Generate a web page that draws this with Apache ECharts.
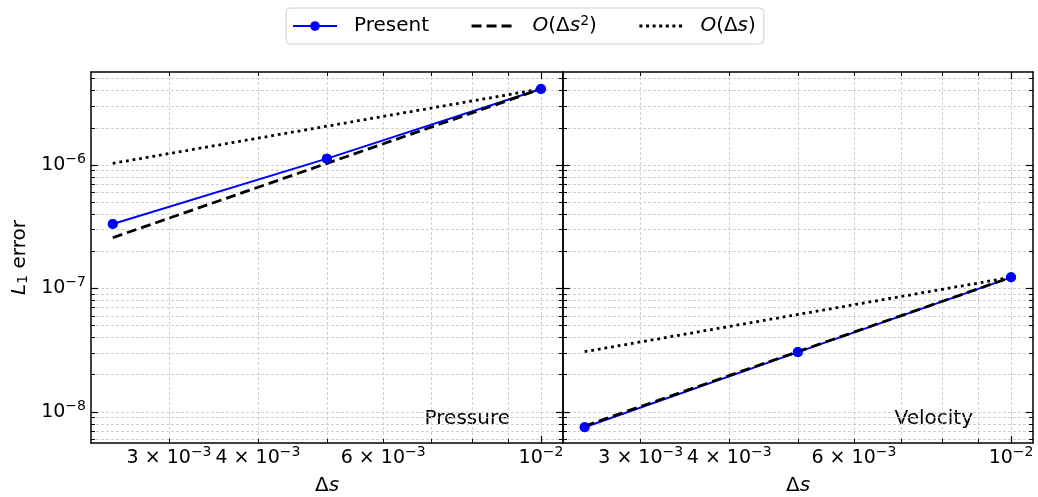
<!DOCTYPE html>
<html>
<head>
<meta charset="utf-8">
<title>L1 error convergence</title>
<script src="https://cdn.jsdelivr.net/npm/echarts@6/dist/echarts.min.js"></script>
</head>
<body style="margin:0;background:#fff">
<div id="main" style="width:1038px;height:497px"></div>
<script>
// grid spacing and errors
var ds = [0.0025, 0.005, 0.01];
var pressurePresent = [3.33e-7, 1.125e-6, 4.12e-6];
var pressureOrder2 = [2.575e-7, 1.03e-6, 4.12e-6];
var pressureOrder1 = [1.03e-6, 2.06e-6, 4.12e-6];
var velocityPresent = [7.52e-9, 3.05e-8, 1.23e-7];
var velocityOrder2 = [7.69e-9, 3.075e-8, 1.23e-7];
var velocityOrder1 = [3.075e-8, 6.15e-8, 1.23e-7];

// ticks
var xLabelTicks = [0.003, 0.004, 0.006, 0.01];
var xLabelText = ['3 × 10{sup|−3}', '4 × 10{sup|−3}', '6 × 10{sup|−3}', '10{sup|−2}'];
var xMinorTicks = [0.003, 0.004, 0.005, 0.006, 0.007, 0.008, 0.009];
var xMajorTicks = [0.01];
var yMajorTicks = [1e-8, 1e-7, 1e-6];
var yLabelText = ['10{sup|−8}', '10{sup|−7}', '10{sup|−6}'];
var yMinorTicks = [6e-9, 7e-9, 8e-9, 9e-9,
    2e-8, 3e-8, 4e-8, 5e-8, 6e-8, 7e-8, 8e-8, 9e-8,
    2e-7, 3e-7, 4e-7, 5e-7, 6e-7, 7e-7, 8e-7, 9e-7,
    2e-6, 3e-6, 4e-6, 5e-6];

var xMin = 0.00233, xMax = 0.01074;
var yMin = 5.6e-9, yMax = 5.66e-6;
var FONT = 'DejaVu Sans';

var supRich = {
    base: {fontSize: 19, fontFamily: FONT, color: '#000', lineHeight: 26},
    sup: {fontSize: 14, fontFamily: FONT, color: '#000', lineHeight: 14, verticalAlign: 'top'}
};
var gridLine = {show: true, lineStyle: {color: '#c4c4c4', width: 0.8, type: [3, 2]}};
var black = {color: '#000', width: 1.5};

function fmt(ticks, texts) {
    return function (v) {
        for (var i = 0; i < ticks.length; i++) {
            if (Math.abs(v - ticks[i]) / ticks[i] < 1e-6) {
                return texts[i].replace(/^([^{]*)/, '{base|$1}');
            }
        }
        return '';
    };
}

function makeX(gi, showName) {
    var common = {type: 'log', logBase: 10, gridIndex: gi, min: xMin, max: xMax};
    return [
        Object.assign({}, common, {
            position: 'bottom',
            name: showName ? '{n|Δ}{i|s}' : '',
            nameLocation: 'middle', nameGap: 33,
            nameTextStyle: {rich: {
                n: {fontSize: 20, fontFamily: FONT, color: '#000'},
                i: {fontSize: 20, fontFamily: FONT, color: '#000', fontStyle: 'italic'}
            }},
            axisLine: {show: true, onZero: false, lineStyle: black},
            axisTick: {inside: true, length: 4, customValues: xMinorTicks.concat(xMajorTicks), lineStyle: {color: '#000', width: 1}},
            axisLabel: {customValues: xLabelTicks, formatter: fmt(xLabelTicks, xLabelText), margin: 2, rich: supRich},
            splitLine: gridLine
        }),
        Object.assign({}, common, {
            position: 'bottom',
            axisLine: {show: false},
            axisTick: {inside: true, length: 7, customValues: xMajorTicks, lineStyle: {color: '#000', width: 1.2}},
            axisLabel: {show: false}, splitLine: {show: false}
        }),
        Object.assign({}, common, {
            position: 'top',
            axisLine: {show: true, onZero: false, lineStyle: black},
            axisTick: {inside: true, length: 4, customValues: xMinorTicks, lineStyle: {color: '#000', width: 1}},
            axisLabel: {show: false}, splitLine: {show: false}
        }),
        Object.assign({}, common, {
            position: 'top',
            axisLine: {show: false},
            axisTick: {inside: true, length: 7, customValues: xMajorTicks, lineStyle: {color: '#000', width: 1.2}},
            axisLabel: {show: false}, splitLine: {show: false}
        })
    ];
}

function makeY(gi, showLabels) {
    var common = {type: 'log', logBase: 10, gridIndex: gi, min: yMin, max: yMax};
    return [
        Object.assign({}, common, {
            position: 'left',
            name: showLabels ? '{i|L}{sub|1} error' : '',
            nameLocation: 'middle', nameGap: 61, nameRotate: 90,
            nameTextStyle: {fontSize: 20, fontFamily: FONT, color: '#000', rich: {
                i: {fontSize: 20, fontFamily: FONT, color: '#000', fontStyle: 'italic'},
                sub: {fontSize: 14, fontFamily: FONT, color: '#000', verticalAlign: 'bottom', lineHeight: 14}
            }},
            axisLine: {show: true, onZero: false, lineStyle: black},
            axisTick: {inside: true, length: 4, customValues: yMinorTicks.concat(yMajorTicks), lineStyle: {color: '#000', width: 1}},
            axisLabel: {show: showLabels, customValues: yMajorTicks, formatter: fmt(yMajorTicks, yLabelText), margin: 5, rich: supRich},
            splitLine: gridLine
        }),
        Object.assign({}, common, {
            position: 'left',
            axisLine: {show: false},
            axisTick: {inside: true, length: 7, customValues: yMajorTicks, lineStyle: {color: '#000', width: 1.2}},
            axisLabel: {show: false}, splitLine: {show: false}
        }),
        Object.assign({}, common, {
            position: 'right',
            axisLine: {show: true, onZero: false, lineStyle: black},
            axisTick: {inside: true, length: 4, customValues: yMinorTicks, lineStyle: {color: '#000', width: 1}},
            axisLabel: {show: false}, splitLine: {show: false}
        }),
        Object.assign({}, common, {
            position: 'right',
            axisLine: {show: false},
            axisTick: {inside: true, length: 7, customValues: yMajorTicks, lineStyle: {color: '#000', width: 1.2}},
            axisLabel: {show: false}, splitLine: {show: false}
        })
    ];
}

function pairs(xs, ys) {
    return xs.map(function (x, i) { return [x, ys[i]]; });
}

function panelSeries(axisIdx, present, order2, order1) {
    return [
        {
            name: 'Present', type: 'line', xAxisIndex: axisIdx, yAxisIndex: axisIdx,
            data: pairs(ds, present), symbol: 'circle', symbolSize: 10,
            itemStyle: {color: '#0000ff'}, lineStyle: {color: '#0000ff', width: 2}, z: 2
        },
        {
            name: 'O2', type: 'line', xAxisIndex: axisIdx, yAxisIndex: axisIdx,
            data: pairs(ds, order2), symbol: 'none',
            itemStyle: {color: '#000'}, lineStyle: {color: '#000', width: 2.8, type: [10, 5]}, z: 3
        },
        {
            name: 'O1', type: 'line', xAxisIndex: axisIdx, yAxisIndex: axisIdx,
            data: pairs(ds, order1), symbol: 'none',
            itemStyle: {color: '#000'}, lineStyle: {color: '#000', width: 2.8, type: [2.8, 3.9]}, z: 4
        },
        {
            name: 'markers', type: 'scatter', xAxisIndex: axisIdx, yAxisIndex: axisIdx,
            data: pairs(ds, present), symbol: 'circle', symbolSize: 10,
            itemStyle: {color: '#0000ff'}, z: 5
        }
    ];
}

var legendText = {
    'Present': 'Present',
    'O2': '{i|O}(Δ{i|s}{sup|2})',
    'O1': '{i|O}(Δ{i|s})'
};

var chart = echarts.init(document.getElementById('main'), null, {renderer: 'canvas'});
chart.setOption({
    animation: false,
    backgroundColor: '#fff',
    grid: [
        {left: 91, top: 72, width: 472, height: 371, outerBoundsMode: 'none', containLabel: false},
        {left: 563, top: 72, width: 470, height: 371, outerBoundsMode: 'none', containLabel: false}
    ],
    legend: {
        data: [
            {name: 'Present', lineStyle: {width: 2}},
            {name: 'O2', itemStyle: {opacity: 0}, lineStyle: {width: 3, type: [10, 5]}},
            {name: 'O1', itemStyle: {opacity: 0}, lineStyle: {width: 3, type: [3, 3.6]}}
        ],
        top: 8, left: 286,
        itemWidth: 44, itemHeight: 12, itemGap: 41,
        padding: [6, 8, 6, 6],
        borderColor: '#d0d0d0', borderWidth: 1, borderRadius: 4,
        backgroundColor: '#fff',
        formatter: function (name) { return legendText[name]; },
        textStyle: {
            fontSize: 20, fontFamily: FONT, color: '#000', padding: [0, 0, 0, 12], lineHeight: 24,
            rich: {
                i: {fontSize: 20, fontFamily: FONT, color: '#000', fontStyle: 'italic', lineHeight: 24},
                sup: {fontSize: 14, fontFamily: FONT, color: '#000', lineHeight: 14, verticalAlign: 'top'}
            }
        }
    },
    xAxis: makeX(0, true).concat(makeX(1, true)),
    yAxis: makeY(0, true).concat(makeY(1, false)),
    series: panelSeries(0, pressurePresent, pressureOrder2, pressureOrder1)
        .concat(panelSeries(4, velocityPresent, velocityOrder2, velocityOrder1)),
    graphic: [
        {type: 'text', x: 510, y: 419, style: {text: 'Pressure', font: '20px "DejaVu Sans"', fill: '#000', align: 'right', verticalAlign: 'middle'}},
        {type: 'text', x: 973, y: 419, style: {text: 'Velocity', font: '20px "DejaVu Sans"', fill: '#000', align: 'right', verticalAlign: 'middle'}}
    ]
});
</script>
</body>
</html>
